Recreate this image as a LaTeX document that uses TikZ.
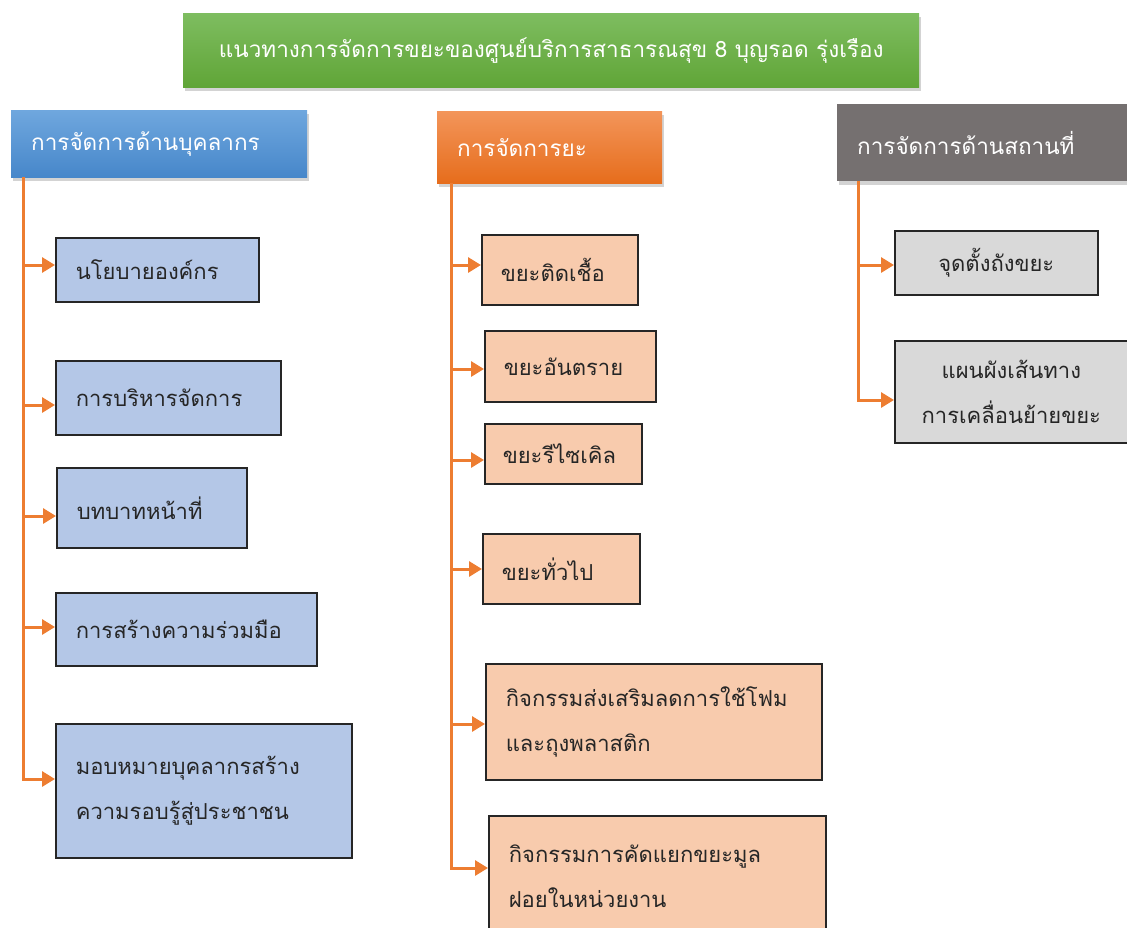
\documentclass[tikz,border=0pt]{standalone}
\usepackage{fontspec}
\newfontfamily\thaifont[Script=Thai]{Loma}
\usetikzlibrary{arrows.meta,shadows}
\definecolor{ttlTop}{HTML}{7EBD60}
\definecolor{ttlBot}{HTML}{60A537}
\definecolor{pplTop}{HTML}{6FA7DE}
\definecolor{pplBot}{HTML}{4787CA}
\definecolor{wstTop}{HTML}{F3955A}
\definecolor{wstBot}{HTML}{E66D1C}
\definecolor{plcFill}{HTML}{757070}
\definecolor{pplFill}{HTML}{B4C7E7}
\definecolor{wstFill}{HTML}{F8CBAD}
\definecolor{plcFill2}{HTML}{D9D9D9}
\definecolor{lineOrange}{HTML}{ED7D31}
\tikzset{
  hdr/.style={anchor=north west, inner xsep=20pt, inner ysep=0pt, text=white, align=left,
    font=\thaifont\fontsize{22.5}{30}\selectfont,
    drop shadow={opacity=0.35, shadow xshift=2pt, shadow yshift=-4pt}},
  item/.style={draw=black!85, line width=1.6pt, anchor=north west, inner xsep=20pt,
    inner ysep=0pt, align=left, text=black!85, font=\thaifont\fontsize{22}{45}\selectfont},
  ppl/.style={item, fill=pplFill},
  wst/.style={item, fill=wstFill},
  plc/.style={item, fill=plcFill2, align=center},
  trunk/.style={draw=lineOrange, line width=3pt},
  branch/.style={draw=lineOrange, line width=3pt, -{Triangle[length=13pt,width=15pt]}}
}
\begin{document}
\begin{tikzpicture}[x=1pt, y=-1pt]
\useasboundingbox (0,0) rectangle (1127,927);

% Title
\node [hdr, top color=ttlTop, bottom color=ttlBot, align=center, inner xsep=0pt,
       minimum width=736pt, minimum height=74pt] (title) at (183,13)
      {แนวทางการจัดการขยะของศูนย์บริการสาธารณสุข 8 บุญรอด รุ่งเรือง};

% Headers
\node [hdr, top color=pplTop, bottom color=pplBot, text width=256pt,
       minimum height=67pt] (hp) at (11,110) {การจัดการด้านบุคลากร};
\node [hdr, top color=wstTop, bottom color=wstBot, text width=185pt,
       minimum height=72pt] (hw) at (437,111) {การจัดการยะ};
\node [hdr, fill=plcFill, text width=260pt,
       minimum height=77pt] (hs) at (837,104) {การจัดการด้านสถานที่};

% Personnel
\node [ppl, text width=163pt, minimum height=64pt] (p1) at (55,237) {นโยบายองค์กร};
\node [ppl, text width=185pt, minimum height=74pt] (p2) at (55,360) {การบริหารจัดการ};
\node [ppl, text width=150pt, minimum height=80pt] (p3) at (56,467) {บทบาทหน้าที่};
\node [ppl, text width=221pt, minimum height=73pt] (p4) at (55,592) {การสร้างความร่วมมือ};
\node [ppl, text width=256pt, minimum height=134pt] (p5) at (55,723)
      {มอบหมายบุคลากรสร้าง\\ความรอบรู้สู่ประชาชน};

% Waste
\node [wst, text width=118pt, minimum height=70pt, inner xsep=19pt] (w1) at (481,234) {ขยะติดเชื้อ};
\node [wst, text width=133pt, minimum height=71pt, inner xsep=19pt] (w2) at (484,330) {ขยะอันตราย};
\node [wst, text width=121pt, minimum height=60pt, inner xsep=18pt] (w3) at (484,423) {ขยะรีไซเคิล};
\node [wst, text width=119pt, minimum height=70pt, inner xsep=19pt] (w4) at (482,533) {ขยะทั่วไป};
\node [wst, text width=296pt, minimum height=116pt] (w5) at (485,663)
      {กิจกรรมส่งเสริมลดการใช้โฟม\\และถุงพลาสติก};
\node [wst, text width=297pt, minimum height=120pt] (w6) at (488,815)
      {กิจกรรมการคัดแยกขยะมูล\\ฝอยในหน่วยงาน};

% Place
\node [plc, text width=163pt, minimum height=64pt] (s1) at (894,230) {จุดตั้งถังขยะ};
\node [plc, text width=193pt, minimum height=102pt] (s2) at (894,340)
      {แผนผังเส้นทาง\\การเคลื่อนย้ายขยะ};

% Connections
\coordinate (ap1) at (23,265);
\coordinate (ap2) at (23,405);
\coordinate (ap3) at (23,516);
\coordinate (ap4) at (23,627);
\coordinate (ap5) at (23,779);
\draw [trunk] (hp.south -| ap1) -- (ap5);
\draw [branch] (ap1) -- (ap1 -| p1.west);
\draw [branch] (ap2) -- (ap2 -| p2.west);
\draw [branch] (ap3) -- (ap3 -| p3.west);
\draw [branch] (ap4) -- (ap4 -| p4.west);
\draw [branch] (hp.south -| ap5) |- (ap5 -| p5.west);

\coordinate (aw1) at (451,265);
\coordinate (aw2) at (451,369);
\coordinate (aw3) at (451,460);
\coordinate (aw4) at (451,569);
\coordinate (aw5) at (451,724);
\coordinate (aw6) at (451,868);
\draw [trunk] (hw.south -| aw1) -- (aw6);
\draw [branch] (aw1) -- (aw1 -| w1.west);
\draw [branch] (aw2) -- (aw2 -| w2.west);
\draw [branch] (aw3) -- (aw3 -| w3.west);
\draw [branch] (aw4) -- (aw4 -| w4.west);
\draw [branch] (aw5) -- (aw5 -| w5.west);
\draw [branch] (hw.south -| aw6) |- (aw6 -| w6.west);

\coordinate (as1) at (858,265);
\coordinate (as2) at (858,400);
\draw [branch] (as1) -- (as1 -| s1.west);
\draw [branch] (hs.south -| as2) |- (as2 -| s2.west);
\end{tikzpicture}
\end{document}
